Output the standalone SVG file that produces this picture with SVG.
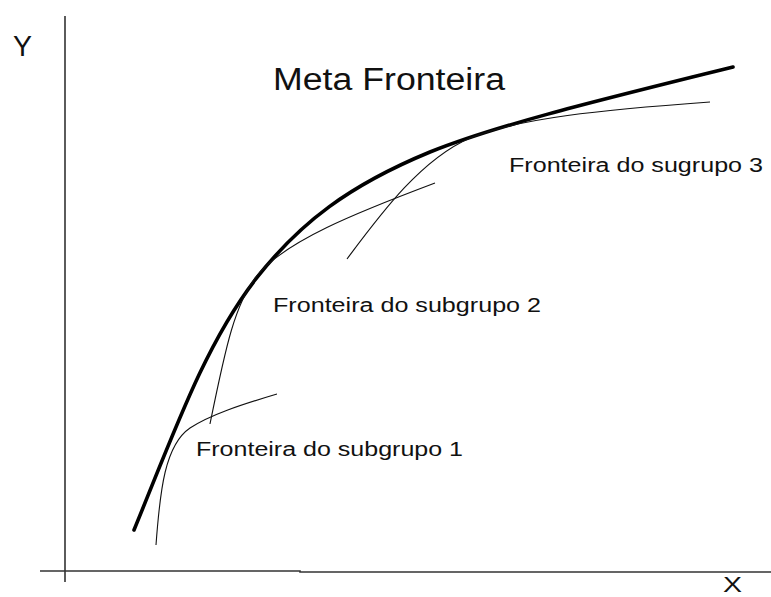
<svg xmlns="http://www.w3.org/2000/svg" width="771" height="597" viewBox="0 0 771 597">
<style>
.t{font-family:"Liberation Sans","Open Sans",Arial,sans-serif;fill:#111}
.thin{fill:none;stroke:#111;stroke-width:1.1}
.thick{fill:none;stroke:#000;stroke-width:3.6;stroke-linecap:round}
.ax{fill:none;stroke:#333;stroke-width:1.6}
</style>
<rect width="771" height="597" fill="#fff"/>
<g id="axes">
<line class="ax" x1="65" y1="16" x2="65" y2="582"/>
<polyline class="ax" points="40,571 300,571 300,572 771,572"/>
<text class="t" x="13" y="56" font-size="30" textLength="19" lengthAdjust="spacingAndGlyphs">Y</text>
<text class="t" x="723" y="592" font-size="22" textLength="19" lengthAdjust="spacingAndGlyphs">X</text>
</g>
<g id="meta-fronteira">
<path class="thick" d="M134,530 C175,430 205,345 255,280 C300,222 350,185 430,152 C500,124 600,100 733,67"/>
<text class="t" x="273" y="90" font-size="31" textLength="232" lengthAdjust="spacingAndGlyphs">Meta Fronteira</text>
</g>
<g id="connectors">
<path id="subgrupo1-curve" class="thin" d="M156,545 C160,490 165,445 190,428 C210,415 240,405 277,394"/>
<path id="subgrupo2-curve" class="thin" d="M210,424 C225,350 235,300 260,272 C290,240 350,215 435,183"/>
<path id="subgrupo3-curve" class="thin" d="M347,259 C380,215 420,160 470,138 C520,118 600,110 710,102"/>
</g>
<g id="subgrupo1">
<text class="t" x="196" y="456" font-size="20" textLength="267" lengthAdjust="spacingAndGlyphs">Fronteira do subgrupo 1</text>
</g>
<g id="subgrupo2">
<text class="t" x="273" y="312" font-size="20" textLength="268" lengthAdjust="spacingAndGlyphs">Fronteira do subgrupo 2</text>
</g>
<g id="subgrupo3">
<text class="t" x="509" y="172" font-size="20" textLength="254" lengthAdjust="spacingAndGlyphs">Fronteira do sugrupo 3</text>
</g>
</svg>
